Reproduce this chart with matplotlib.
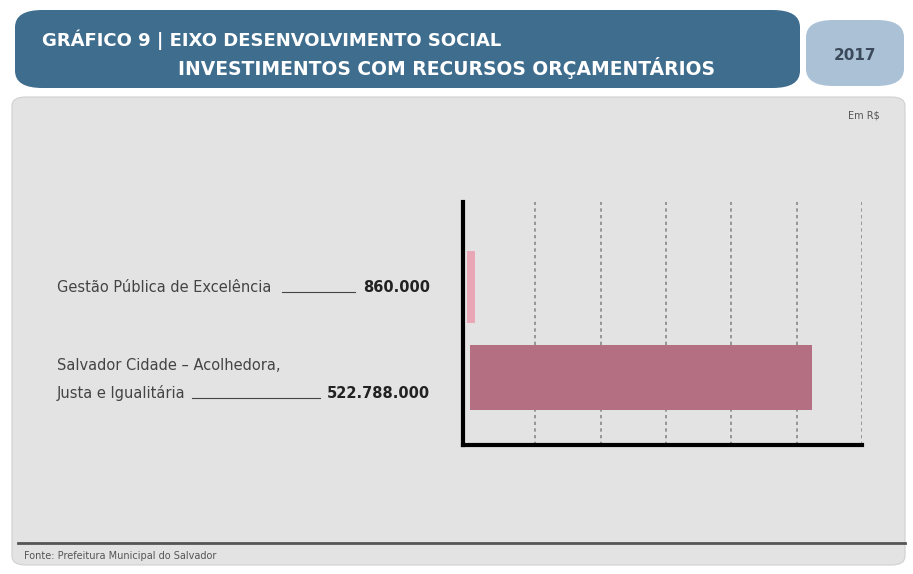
import numpy as np
import matplotlib.pyplot as plt
from matplotlib.patches import FancyBboxPatch
from matplotlib.lines import Line2D

categorias = ["Salvador Cidade – Acolhedora,\nJusta e Igualitária", "Gestão Pública de Excelência"]
valores = [522788000, 860000]
rotulos = ["522.788.000", "860.000"]
cores = ["#b56f82", "#e9a7b6"]
grade = [100e6, 200e6, 300e6, 400e6, 500e6, 600e6]

W, H = 913, 574
fig = plt.figure(figsize=(W / 100, H / 100), dpi=100)
fig.patch.set_facecolor("white")

def fx(px):
    return px / W

def fy(py):
    return 1 - py / H

# painel cinza
fig.patches.append(FancyBboxPatch((fx(12), fy(565)), fx(893), fy(97) - fy(565),
                                  boxstyle="round,pad=0,rounding_size=0.015",
                                  transform=fig.transFigure, facecolor="#e3e3e3",
                                  edgecolor="#d0d0d0", lw=0.8, zorder=0))
# faixa do titulo
fig.patches.append(FancyBboxPatch((fx(15), fy(88)), fx(785), fy(10) - fy(88),
                                  boxstyle="round,pad=0,rounding_size=0.03",
                                  transform=fig.transFigure, facecolor="#3f6d8e",
                                  edgecolor="none", zorder=1))
# caixa do ano
fig.patches.append(FancyBboxPatch((fx(806), fy(86)), fx(98), fy(20) - fy(86),
                                  boxstyle="round,pad=0,rounding_size=0.03",
                                  transform=fig.transFigure, facecolor="#aac1d6",
                                  edgecolor="none", zorder=1))

fig.text(fx(42), fy(40), "GRÁFICO 9 | EIXO DESENVOLVIMENTO SOCIAL", color="white",
         fontsize=13, fontweight="bold", va="center", zorder=3)
fig.text(fx(178), fy(68), "INVESTIMENTOS COM RECURSOS ORÇAMENTÁRIOS", color="white",
         fontsize=13.5, fontweight="bold", va="center", zorder=3)
fig.text(fx(855), fy(55), "2017", color="#3b4a5a", fontsize=11, fontweight="bold",
         ha="center", va="center", zorder=3)
fig.text(fx(880), fy(115), "Em R$", color="#555555", fontsize=7, ha="right", va="center")

# grafico
ax = fig.add_axes([fx(463), fy(445), fx(862) - fx(463), fy(202) - fy(445)])
ax.set_zorder(5)
ax.set_facecolor("none")
y = np.arange(len(categorias))
ax.barh(y, valores, height=0.72, color=cores, edgecolor=cores, linewidth=[0, 5], zorder=2)
for g in grade:
    ax.axvline(g, color="#888888", lw=1.2, ls=(0, (2, 2)), zorder=1)
ax.set_xlim(-11e6, 600e6)
ax.set_ylim(-0.74, 1.93)
for s in ["top", "right"]:
    ax.spines[s].set_visible(False)
ax.spines["left"].set_linewidth(3)
ax.spines["bottom"].set_linewidth(3)
ax.set_xticks([])
ax.set_yticks([])

# rotulos
cor_txt = "#444444"
fs = 10.5
fig.text(fx(57), fy(287), categorias[1], fontsize=fs, color=cor_txt, va="center")
fig.text(fx(430), fy(287), rotulos[1], fontsize=fs, color="#222222", fontweight="bold",
         ha="right", va="center")
fig.add_artist(Line2D([fx(282), fx(355)], [fy(292), fy(292)], color=cor_txt, lw=0.8))
l1, l2 = categorias[0].split("\n")
fig.text(fx(57), fy(366), l1, fontsize=fs, color=cor_txt, va="center")
fig.text(fx(57), fy(393), l2, fontsize=fs, color=cor_txt, va="center")
fig.text(fx(430), fy(393), rotulos[0], fontsize=fs, color="#222222", fontweight="bold",
         ha="right", va="center")
fig.add_artist(Line2D([fx(192), fx(320)], [fy(398), fy(398)], color=cor_txt, lw=0.8))

# rodape
fig.add_artist(Line2D([fx(18), fx(905)], [fy(543), fy(543)], color="#555555", lw=2))
fig.text(fx(24), fy(556), "Fonte: Prefeitura Municipal do Salvador", fontsize=7,
         color="#555555", va="center")

fig.savefig("out.png", dpi=100)
